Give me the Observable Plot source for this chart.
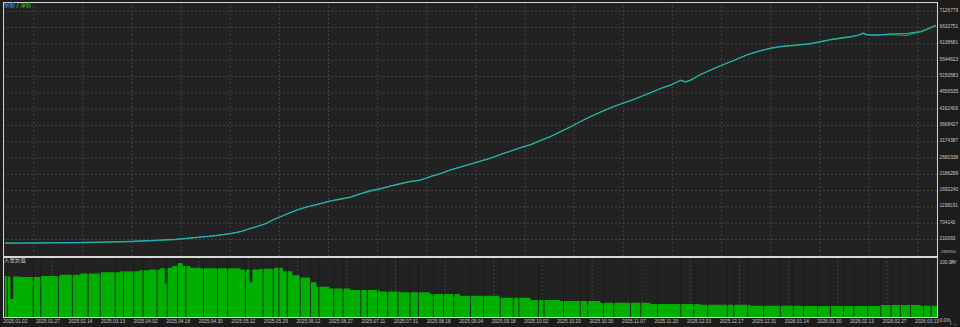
<!DOCTYPE html>
<html><head><meta charset="utf-8">
<script src="https://cdn.jsdelivr.net/npm/d3@7"></script>
<script src="https://cdn.jsdelivr.net/npm/@observablehq/plot@0.6"></script>
<style>
html,body{margin:0;padding:0;background:#1c1c1c;}
#wrap{position:relative;width:960px;height:327px;overflow:hidden;background:#1c1c1c;}
#topChart,#botChart{position:absolute;left:0;}
#topChart{top:0;}
#botChart{top:256px;}
.lg{position:absolute;left:4px;top:3px;font-size:5.6px;line-height:1;font-family:"Noto Sans CJK SC",sans-serif;color:#ddd;white-space:nowrap;}
.lg2{position:absolute;left:4px;top:258px;font-size:5.4px;line-height:1;font-family:"Noto Sans CJK SC",sans-serif;color:#d0d0d0;white-space:nowrap;}
</style></head>
<body>
<div id="wrap">
  <div id="topChart"></div>
  <div id="botChart"></div>
  <div class="lg"><span style="color:#4a8fe0">余额</span> / <span style="color:#35c035">净值</span></div>
  <div class="lg2">入金负载</div>
</div>
<script>
// ---- data (x = deal index, 0..1000) ----
const dealIdx = [0,27,48,75,102,129,156,183,210,226,242,253,263,272,280,287,296,304,312,320,328,339,349,360,371,382,392,403,414,425,435,446,457,468,478,489,500,511,522,532,543,554,565,575,586,597,608,618,629,640,651,661,672,683,694,704,715,726,731,737,747,758,769,780,790,801,812,823,833,844,855,866,876,887,898,909,917,922,926,935,952,968,984,992,1000];
const balance = [100000,104500,110000,119000,131000,150000,180000,216000,286000,331000,392000,452000,543000,619000,695000,801000,907000,998000,1089000,1165000,1226000,1301000,1377000,1438000,1498000,1604000,1695000,1756000,1832000,1907000,1968000,2014000,2120000,2211000,2317000,2408000,2499000,2590000,2680000,2786000,2892000,2999000,3090000,3211000,3332000,3484000,3635000,3787000,3938000,4075000,4211000,4317000,4423000,4544000,4666000,4787000,4893000,5040000,4990000,5050000,5211000,5348000,5484000,5605000,5726000,5848000,5939000,6014000,6060000,6090000,6120000,6151000,6211000,6272000,6317000,6363000,6408000,6470000,6424000,6408000,6439000,6454000,6514000,6605000,6696000];
const equity  = [100000,102000,108000,112000,124000,138000,166000,206000,280000,322000,386000,446000,536000,612000,690000,795000,900000,992000,1083000,1158000,1220000,1295000,1370000,1430000,1490000,1596000,1672000,1740000,1826000,1900000,1962000,2006000,2113000,2205000,2310000,2402000,2492000,2584000,2674000,2780000,2885000,2992000,3084000,3205000,3326000,3478000,3628000,3780000,3931000,4068000,4204000,4310000,4416000,4537000,4660000,4780000,4886000,5030000,4980000,5042000,5204000,5341000,5476000,5598000,5719000,5840000,5930000,6006000,6052000,6082000,6112000,6143000,6203000,6264000,6310000,6355000,6400000,6455000,6410000,6398000,6430000,6400000,6505000,6596000,6690000];

const loadIdx = [0,3,5,6,9,16,38,59,81,102,124,145,156,167,172,174,180,186,191,199,210,231,253,263,266,274,290,299,309,317,328,335,349,371,403,425,457,489,532,565,597,640,694,747,801,855,909,941,984,1002];
const loadPct = [70.7,70,70,31,70,69,70.7,73,75,77,79,80.5,82,84,58,85,88,93,88,85,84,84,82,60,82,83,85,79,72,68,60,52,49,46.5,44,42.5,39.5,36.5,33,29.5,27.5,24.5,22.5,21,19.5,19,19,20.5,19.5,17];
const loadGaps = [2,30,38,57,72,89,102,118,127,138,148,163,174,185,194,213,228,239,258,277,288,294,303,317,328,337,353,363,382,389,400,411,422,435,444,460,471,482,500,514,532,546,552,573,579,600,618,626,643,654,672,683,701,726,740,755,776,783,798,815,833,847,858,873,887,901,912,927,941,952,962,973,987,995];

const yTicks = [210093,704142,1198191,1692240,2186289,2680338,3174387,3668427,4162406,4656535,5150583,5644623,6138681,6632751,7126779];
const yTickLow = [-283956];
const dateTicks = [0,35,70,105,140,175,210,245,280,315,350,385,420,455,490,525,560,595,630,665,700,735,770,805,840,875,910,945,980];
const dateLabels = ["2025.01.02","2025.01.27","2025.02.14","2025.03.13","2025.04.02","2025.04.18","2025.04.30","2025.05.12","2025.05.29","2025.06.12","2025.06.27","2025.07.11","2025.07.31","2025.08.18","2025.09.04","2025.09.18","2025.10.02","2025.10.20","2025.10.30","2025.11.07","2025.11.20","2025.12.03","2025.12.17","2025.12.31","2026.01.14","2026.01.30","2026.02.13","2026.02.27","2026.03.13"];
const loadTicks = [0,100];

// ---- build ----
const curveRows = dealIdx.map((i,k)=>({i, bal: balance[k], eq: equity[k]}));
const loadRows = loadIdx.map((i,k)=>({i, p: loadPct[k]}));
const labelMap = new Map(dateTicks.map((t,k)=>[t,dateLabels[k]]));
const gridTop = d3.range(30.6, 1000, 52.8);
const gridBot = d3.range(50.0, 1000, 52.8);

const FONT = "Liberation Sans, Arial, sans-serif";
const BG = "#222222";
const GRID = "#4a4a4a";
const chartStyle = {background:"transparent", color:"#c8c8c8", fontFamily:FONT, overflow:"visible"};

const topPlot = Plot.plot({
  width:960, height:257, marginLeft:3, marginRight:23, marginTop:2, marginBottom:1,
  style: chartStyle,
  x:{domain:[-2,1002], axis:null},
  y:{domain:[-305177, 7393563], axis:null},
  marks:[
    Plot.frame({fill:BG, stroke:null}),
    Plot.ruleX(gridTop, {stroke:GRID, strokeDasharray:"2,2", strokeWidth:0.8}),
    Plot.ruleY(yTicks, {stroke:GRID, strokeDasharray:"2,2", strokeWidth:0.8}),
    Plot.line(curveRows, {x:"i", y:"eq", stroke:"#1f9e4a", strokeWidth:1.3}),
    Plot.line(curveRows, {x:"i", y:"bal", stroke:"#28b0d0", strokeWidth:1}),
    Plot.axisY(yTicks, {anchor:"right", tickSize:0, tickPadding:2, tickFormat:d=>String(d), fontSize:4.8, fill:"#c8c8c8", dy:-1}),
    Plot.axisY(yTickLow, {anchor:"right", tickSize:0, tickPadding:2, tickFormat:d=>String(d), fontSize:4.4, fill:"#b8b8b8", dy:-4}),
    Plot.frame({stroke:"#d8d8d8"})
  ]
});
document.getElementById("topChart").appendChild(topPlot);

const botPlot = Plot.plot({
  width:960, height:71, marginLeft:3, marginRight:23, marginTop:1, marginBottom:10,
  style: chartStyle,
  x:{domain:[-2,1002], axis:null},
  y:{domain:[0,103.45], axis:null},
  marks:[
    Plot.frame({fill:BG, stroke:null}),
    Plot.ruleX(gridBot, {stroke:GRID, strokeDasharray:"2,2", strokeWidth:0.8}),
    Plot.areaY(loadRows, {x:"i", y:"p", curve:"step-after", fill:"#00b000"}),
    Plot.ruleX(loadGaps, {stroke:"#152015", strokeWidth:0.9}),
    Plot.axisY(loadTicks, {anchor:"right", tickSize:0, tickPadding:2, tickFormat:d=>d.toFixed(1)+"%", fontSize:4.8, fill:"#c8c8c8", dy:2.5}),
    Plot.axisX(dateTicks, {anchor:"bottom", tickSize:0, tickPadding:2, tickFormat:d=>labelMap.get(d), textAnchor:"start", dx:-2, fontSize:4.8, fill:"#c8c8c8"}),
    Plot.frame({stroke:"#d8d8d8"})
  ]
});
document.getElementById("botChart").appendChild(botPlot);
</script>
</body></html>
